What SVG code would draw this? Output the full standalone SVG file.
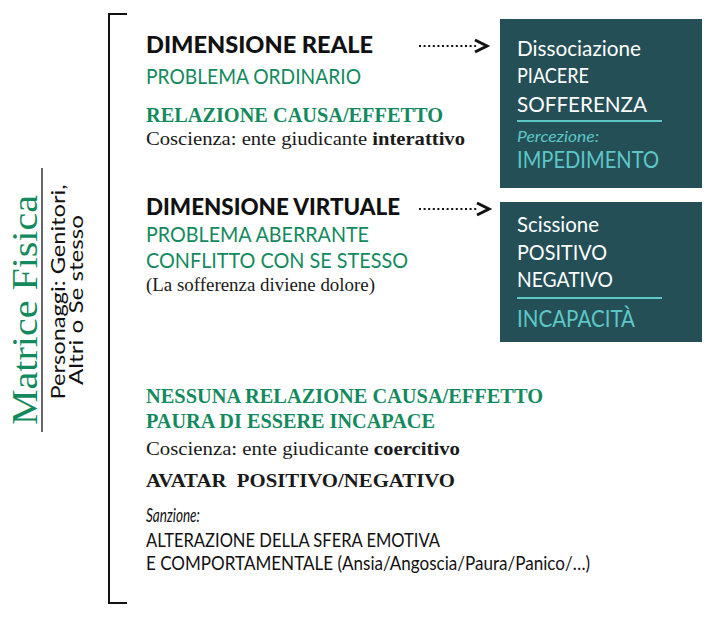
<svg xmlns="http://www.w3.org/2000/svg" width="708" height="620" viewBox="0 0 708 620">
<style>
.hd{font-family:Lato,"Open Sans","Liberation Sans",sans-serif;font-weight:900;font-size:22px;fill:#111}
.gs{font-family:Lato,"Open Sans","Liberation Sans",sans-serif;font-size:22px;fill:#138a5e}
.gb{font-family:"Liberation Serif",serif;font-weight:bold;font-size:21px;fill:#138a5e}
.sr{font-family:"Liberation Serif",serif;font-size:19px;fill:#1a1a1a}
.sb{font-weight:bold}
.bx{fill:#244f57}
.bw{font-family:Lato,"Open Sans","Liberation Sans",sans-serif;font-size:22px;fill:#fff}
.bt{font-family:Lato,"Open Sans","Liberation Sans",sans-serif;font-size:23px;fill:#5cc7c6}
.bi{font-family:Lato,"Open Sans","Liberation Sans",sans-serif;font-size:16px;font-style:italic;fill:#5cc7c6}
.bl{stroke:#5cc7c6;stroke-width:2}
.ks{font-family:Lato,"Open Sans","Liberation Sans",sans-serif;font-size:19px;fill:#111}
.dot{stroke:#111;stroke-width:2.2;stroke-dasharray:2 2.6;fill:none}
.ah{stroke:#111;stroke-width:3;fill:none;stroke-linejoin:miter}
</style>
<g id="side">
<path d="M127 14 H109 V603 H127" fill="none" stroke="#111" stroke-width="2"/>
<line x1="42" y1="168" x2="42" y2="432" stroke="#333" stroke-width="1.5"/>
<text transform="translate(37,310) rotate(-90)" text-anchor="middle" font-family="Liberation Serif,serif" font-size="35" fill="#138a5e" textLength="230" lengthAdjust="spacingAndGlyphs">Matrice Fisica</text>
<text transform="translate(65,292) rotate(-90)" text-anchor="middle" font-family="Lato,Open Sans,Liberation Sans,sans-serif" font-size="20" fill="#111" textLength="215" lengthAdjust="spacingAndGlyphs">Personaggi: Genitori,</text>
<text transform="translate(83,300) rotate(-90)" text-anchor="middle" font-family="Lato,Open Sans,Liberation Sans,sans-serif" font-size="20" fill="#111" textLength="170" lengthAdjust="spacingAndGlyphs">Altri o Se stesso</text>
</g>
<g id="reale">
<text class="hd" x="146" y="53" textLength="227" lengthAdjust="spacingAndGlyphs">DIMENSIONE REALE</text>
<text class="gs" x="146" y="84" textLength="215" lengthAdjust="spacingAndGlyphs">PROBLEMA ORDINARIO</text>
<text class="gb" x="146" y="122" textLength="297" lengthAdjust="spacingAndGlyphs">RELAZIONE CAUSA/EFFETTO</text>
<text class="sr" x="146" y="145" textLength="319" lengthAdjust="spacingAndGlyphs">Coscienza: ente giudicante <tspan class="sb">interattivo</tspan></text>
</g>
<g id="virtuale">
<text class="hd" x="146" y="215" textLength="254" lengthAdjust="spacingAndGlyphs">DIMENSIONE VIRTUALE</text>
<text class="gs" x="146" y="242" textLength="223" lengthAdjust="spacingAndGlyphs">PROBLEMA ABERRANTE</text>
<text class="gs" x="146" y="268" textLength="262" lengthAdjust="spacingAndGlyphs">CONFLITTO CON SE STESSO</text>
<text class="sr" x="146" y="291" textLength="229" lengthAdjust="spacingAndGlyphs">(La sofferenza diviene dolore)</text>
</g>
<g id="box1">
<rect class="bx" x="500" y="19" width="202" height="169"/>
<text class="bw" x="517" y="56" textLength="124" lengthAdjust="spacingAndGlyphs">Dissociazione</text>
<text class="bw" x="517" y="83" textLength="72" lengthAdjust="spacingAndGlyphs">PIACERE</text>
<text class="bw" x="517" y="112" textLength="130" lengthAdjust="spacingAndGlyphs">SOFFERENZA</text>
<line class="bl" x1="517" y1="121" x2="662" y2="121"/>
<text class="bi" x="517" y="142" textLength="82" lengthAdjust="spacingAndGlyphs">Percezione:</text>
<text class="bt" x="517" y="168" textLength="142" lengthAdjust="spacingAndGlyphs">IMPEDIMENTO</text>
</g>
<g id="box2">
<rect class="bx" x="500" y="202" width="202" height="140"/>
<text class="bw" x="517" y="232" textLength="82" lengthAdjust="spacingAndGlyphs">Scissione</text>
<text class="bw" x="517" y="260" textLength="90" lengthAdjust="spacingAndGlyphs">POSITIVO</text>
<text class="bw" x="517" y="287" textLength="96" lengthAdjust="spacingAndGlyphs">NEGATIVO</text>
<line class="bl" x1="517" y1="298" x2="662" y2="298"/>
<text class="bt" x="517" y="327" textLength="118" lengthAdjust="spacingAndGlyphs">INCAPACITÀ</text>
</g>
<g id="conseguenze">
<text class="gb" x="146" y="403" textLength="397" lengthAdjust="spacingAndGlyphs">NESSUNA RELAZIONE CAUSA/EFFETTO</text>
<text class="gb" x="146" y="428" textLength="289" lengthAdjust="spacingAndGlyphs">PAURA DI ESSERE INCAPACE</text>
<text class="sr" x="146" y="455" textLength="314" lengthAdjust="spacingAndGlyphs">Coscienza: ente giudicante <tspan class="sb">coercitivo</tspan></text>
<text class="sr sb" x="146" y="487" font-size="20" style="white-space:pre" textLength="309" lengthAdjust="spacingAndGlyphs">AVATAR  POSITIVO/NEGATIVO</text>
<text class="ks" x="146" y="522" font-size="16" font-style="italic" textLength="54" lengthAdjust="spacingAndGlyphs">Sanzione:</text>
<text class="ks" x="146" y="547" textLength="294" lengthAdjust="spacingAndGlyphs">ALTERAZIONE DELLA SFERA EMOTIVA</text>
<text class="ks" x="146" y="570" textLength="444" lengthAdjust="spacingAndGlyphs">E COMPORTAMENTALE (Ansia/Angoscia/Paura/Panico/…)</text>
</g>
<g id="connectors">
<line class="dot" x1="419" y1="46" x2="476" y2="46"/>
<polyline class="ah" points="475,40 487,46 475,52"/>
<line class="dot" x1="419" y1="209" x2="478" y2="209"/>
<polyline class="ah" points="477,203 489,209 477,215"/>
</g>
</svg>
